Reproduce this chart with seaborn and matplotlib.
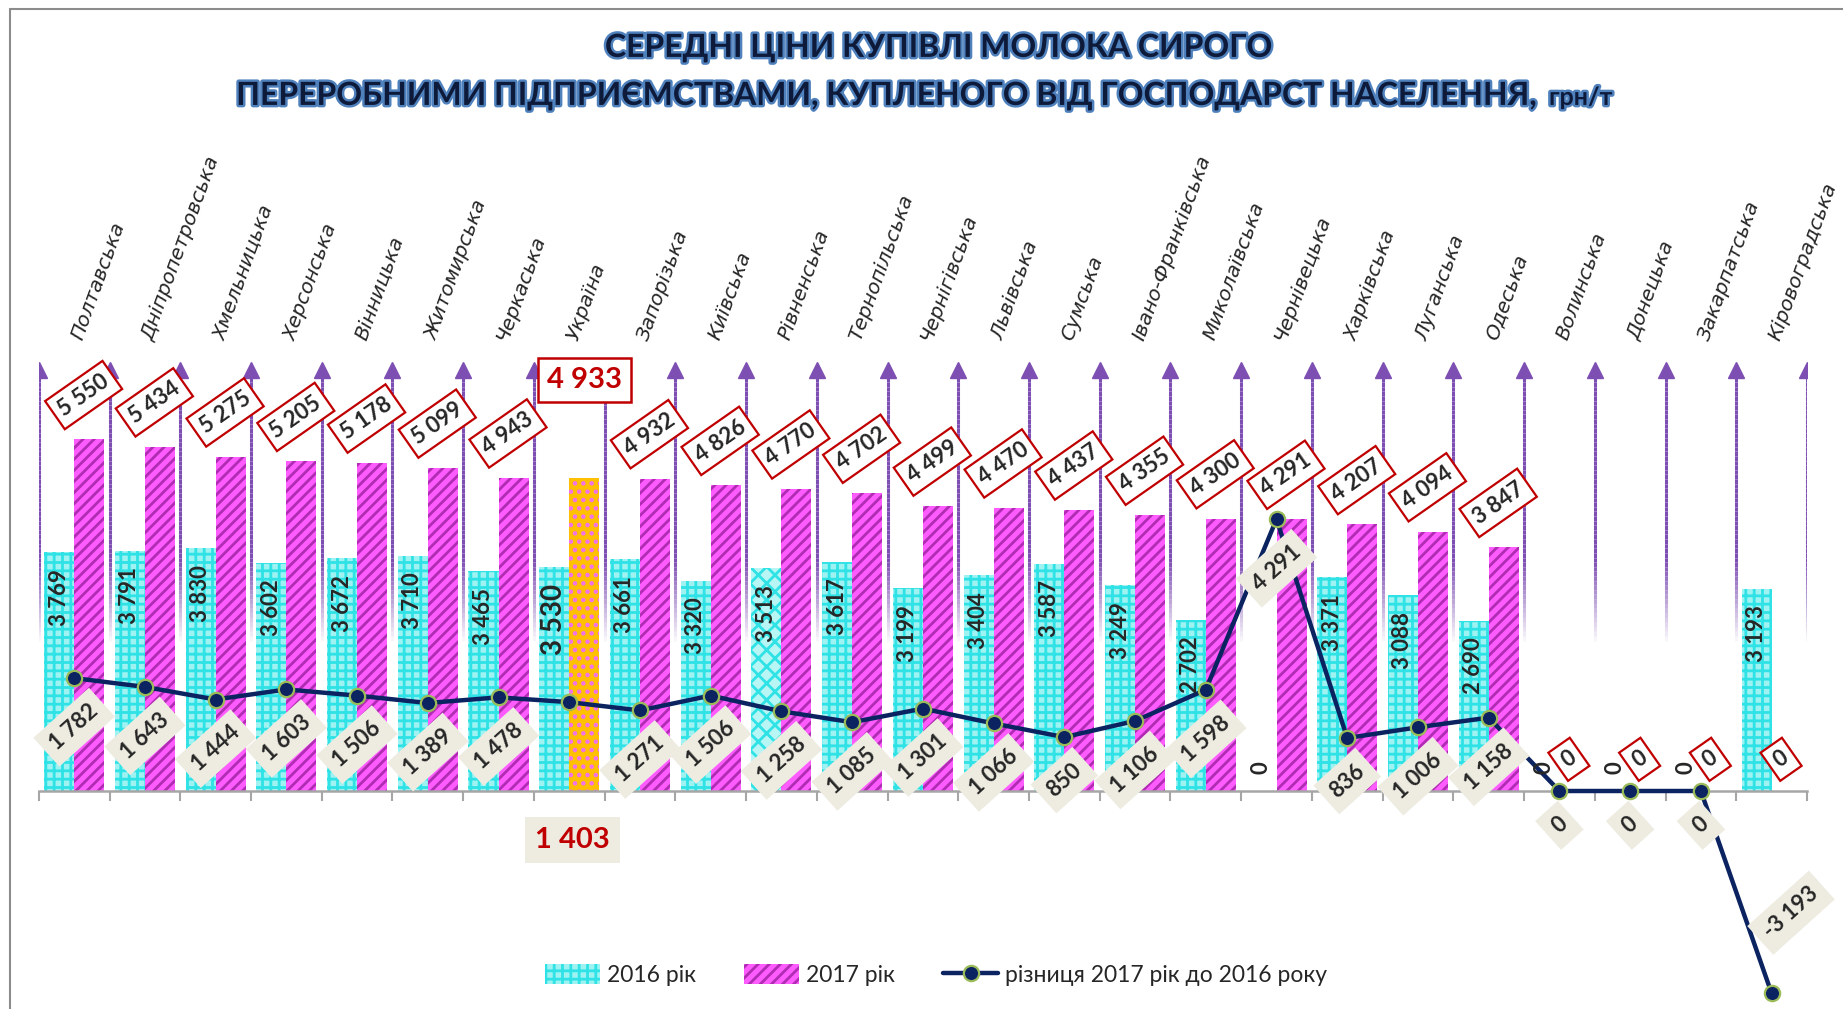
import numpy as np
import pandas as pd
import matplotlib
matplotlib.use("Agg")
import matplotlib.pyplot as plt
import matplotlib.patheffects as pe
from matplotlib.collections import LineCollection
from matplotlib.patches import Patch
from matplotlib.lines import Line2D
import seaborn as sns

regions = ["Полтавська", "Дніпропетровська", "Хмельницька", "Херсонська", "Вінницька",
           "Житомирська", "Черкаська", "Україна", "Запорізька", "Київська", "Рівненська",
           "Тернопільська", "Чернігівська", "Львівська", "Сумська", "Івано-Франківська",
           "Миколаївська", "Чернівецька", "Харківська", "Луганська", "Одеська", "Волинська",
           "Донецька", "Закарпатська", "Кіровоградська"]
price_2016 = [3769, 3791, 3830, 3602, 3672, 3710, 3465, 3530, 3661, 3320, 3513, 3617, 3199,
              3404, 3587, 3249, 2702, 0, 3371, 3088, 2690, 0, 0, 0, 3193]
price_2017 = [5550, 5434, 5275, 5205, 5178, 5099, 4943, 4933, 4932, 4826, 4770, 4702, 4499,
              4470, 4437, 4355, 4300, 4291, 4207, 4094, 3847, 0, 0, 0, 0]
diff = [1782, 1643, 1444, 1603, 1506, 1389, 1478, 1403, 1271, 1506, 1258, 1085, 1301,
        1066, 850, 1106, 1598, 4291, 836, 1006, 1158, 0, 0, 0, -3193]
years = ["2016 рік", "2017 рік"]
line_label = "різниця 2017 рік до 2016 року"
title_1 = "СЕРЕДНІ ЦІНИ КУПІВЛІ МОЛОКА СИРОГО"
title_2 = "ПЕРЕРОБНИМИ ПІДПРИЄМСТВАМИ, КУПЛЕНОГО ВІД ГОСПОДАРСТ НАСЕЛЕННЯ,"
title_unit = "грн/т"

ukr = regions.index("Україна")
rivne = regions.index("Рівненська")

cyan_face, cyan_hatch = "#9FF2F2", "#2FE2E6"
mag_face, mag_hatch = "#FF5CFF", "#B02CB2"
navy = "#0B2461"
purple = "#7E4FB3"
red = "#C00000"
beige = "#EEECE1"

def fmt(v):
    return f"{v:,}".replace(",", " ")

sns.set_style("white")
plt.rcParams["font.family"] = ["Lato", "DejaVu Sans"]
plt.rcParams["hatch.linewidth"] = 2.0

fig = plt.figure(figsize=(18.43, 10.09), dpi=100)
ax = fig.add_axes([0.02105, 0.0, 0.9594, 0.8712])

df = pd.DataFrame({
    "region": regions * 2,
    "year": [years[0]] * len(regions) + [years[1]] * len(regions),
    "price": price_2016 + price_2017,
})

sns.barplot(data=df, x="region", y="price", hue="year", order=regions, hue_order=years,
            palette=[cyan_face, mag_face], width=0.85, gap=0, saturation=1,
            legend=False, linewidth=0, errorbar=None, ax=ax, zorder=2)

for i, bar in enumerate(ax.containers[0]):
    bar.set_hatch("xx" if i == rivne else "++")
    bar.set_edgecolor(cyan_hatch)
    bar.set_linewidth(0)
    if i == rivne:
        bar.set_facecolor("#B8F5F5")
for i, bar in enumerate(ax.containers[1]):
    bar.set_linewidth(0)
    if i == ukr:
        bar.set_facecolor("#FFC000")
        bar.set_hatch("..")
        bar.set_edgecolor("#F070F0")
    else:
        bar.set_hatch("///")
        bar.set_edgecolor(mag_hatch)

# purple arrows at category boundaries, fading towards the bars
bounds = np.arange(len(regions) + 1) - 0.5
ys = np.linspace(2300, 6600, 60)
alpha = np.clip((ys[:-1] - 2300) / 1300, 0, 1)
for b in bounds:
    segs = [[(b, ys[k]), (b, ys[k + 1])] for k in range(len(ys) - 1)]
    cols = [(0.494, 0.31, 0.70, a) for a in alpha]
    ax.add_collection(LineCollection(segs, colors=cols, linewidths=2.2, zorder=1))
ax.plot(bounds, [6640] * len(bounds), ls="none", marker="^", markersize=11,
        color=purple, zorder=1)

# difference line
sns.pointplot(x=regions, y=diff, order=regions, color=navy, markers="o", errorbar=None,
              markersize=11, linewidth=3.2, markeredgecolor="#9BBB59",
              markeredgewidth=1.6, ax=ax)
ax.lines[-1].set_zorder(6)

# labels for 2016 bars
for i, bar in enumerate(ax.containers[0]):
    x = bar.get_x() + bar.get_width() / 2
    v = price_2016[i]
    size = 20 if i == ukr else 16
    if v == 0:
        ax.annotate(fmt(v), (x, 0), xytext=(0, 12), textcoords="offset points",
                    rotation=90, ha="center", va="bottom", fontsize=size,
                    fontweight="bold", zorder=7)
    else:
        ax.annotate(fmt(v), (x, v), xytext=(0, -12), textcoords="offset points",
                    rotation=90, ha="center", va="top", fontsize=size,
                    fontweight="bold", zorder=7)

# labels for 2017 bars
for i, bar in enumerate(ax.containers[1]):
    x = bar.get_x() + bar.get_width() / 2
    v = price_2017[i]
    if i == ukr:
        ax.text(x, 6488, fmt(v), ha="center", va="center", fontsize=21, fontweight="bold",
                color=red, zorder=8,
                bbox=dict(boxstyle="square,pad=0.3", fc="white", ec=red, lw=1.8))
        continue
    ax.annotate(fmt(v), (x, v), xytext=(-4, 14), textcoords="offset points",
                rotation=35, ha="center", va="bottom", fontsize=16, fontweight="bold",
                zorder=8,
                bbox=dict(boxstyle="square,pad=0.3", fc="white", ec=red, lw=1.6))

# labels for difference line
for i, d in enumerate(diff):
    if i == ukr:
        ax.text(i + 0.05, -775, fmt(d), ha="center", va="center", fontsize=21,
                fontweight="bold", color=red, zorder=8,
                bbox=dict(boxstyle="square,pad=0.35", fc=beige, ec="none"))
        continue
    if d < 0:
        ax.annotate(fmt(d), (i, d), xytext=(14, 58), textcoords="offset points",
                    rotation=42, ha="center", va="center", fontsize=16, fontweight="bold",
                    zorder=8, bbox=dict(boxstyle="square,pad=0.4", fc=beige, ec="none"))
    else:
        ax.annotate(fmt(d), (i, d), xytext=(0, -16), textcoords="offset points",
                    rotation=42, ha="center", va="top", fontsize=16, fontweight="bold",
                    zorder=8, bbox=dict(boxstyle="square,pad=0.4", fc=beige, ec="none"))

# category names above the arrows
for i, name in enumerate(regions):
    ax.text(i + 0.12, 7100, name, rotation=70, rotation_mode="anchor", ha="left",
            va="baseline", fontsize=14.5, style="italic", family="DejaVu Sans")

ax.set_xlim(-0.5, len(regions) - 0.5)
ax.set_ylim(-3441, 10434)
ax.set_xticks(bounds)
ax.set_xticklabels([])
ax.set_yticks([])
ax.set_xlabel("")
ax.set_ylabel("")
for s in ["top", "left", "right"]:
    ax.spines[s].set_visible(False)
ax.spines["bottom"].set_position(("data", 0))
ax.spines["bottom"].set_color("#A6A6A6")
ax.spines["bottom"].set_linewidth(1.8)
ax.spines["bottom"].set_zorder(3)
ax.tick_params(axis="x", direction="out", length=7, width=1.5, color="#A6A6A6", bottom=True)
ax.set_facecolor("none")

# legend
handles = [Patch(facecolor=cyan_face, edgecolor=cyan_hatch, hatch="++", lw=0, label=years[0]),
           Patch(facecolor=mag_face, edgecolor=mag_hatch, hatch="///", lw=0, label=years[1]),
           Line2D([], [], color=navy, lw=3.2, marker="o", markersize=11,
                  markeredgecolor="#9BBB59", markeredgewidth=1.6, label=line_label)]
fig.legend(handles=handles, loc="center", bbox_to_anchor=(0.508, 0.034), ncol=3,
           frameon=False, fontsize=16.5, handlelength=2.4, handleheight=1.0,
           columnspacing=2.1, handletextpad=0.3)

# titles
fx = [pe.withStroke(linewidth=3.5, foreground="#4F81BD")]
fig.text(0.51, 0.953, title_1, ha="center", va="center", fontsize=23, fontweight="bold",
         color="#0E1A3A", path_effects=fx)
fig.text(0.8365, 0.896, title_2, ha="right", va="baseline", fontsize=23, fontweight="bold",
         color="#0E1A3A", path_effects=fx)
fig.text(0.8405, 0.896, title_unit, ha="left", va="baseline", fontsize=18, fontweight="bold",
         color="#0E1A3A", path_effects=fx)

# chart frame (top and left edges)
fig.add_artist(Line2D([0.0054, 0.0054], [0, 0.991], color="#8C8C8C", lw=1.5))
fig.add_artist(Line2D([0.0054, 1], [0.991, 0.991], color="#8C8C8C", lw=1.5))

fig.savefig("out.png", dpi=100)
